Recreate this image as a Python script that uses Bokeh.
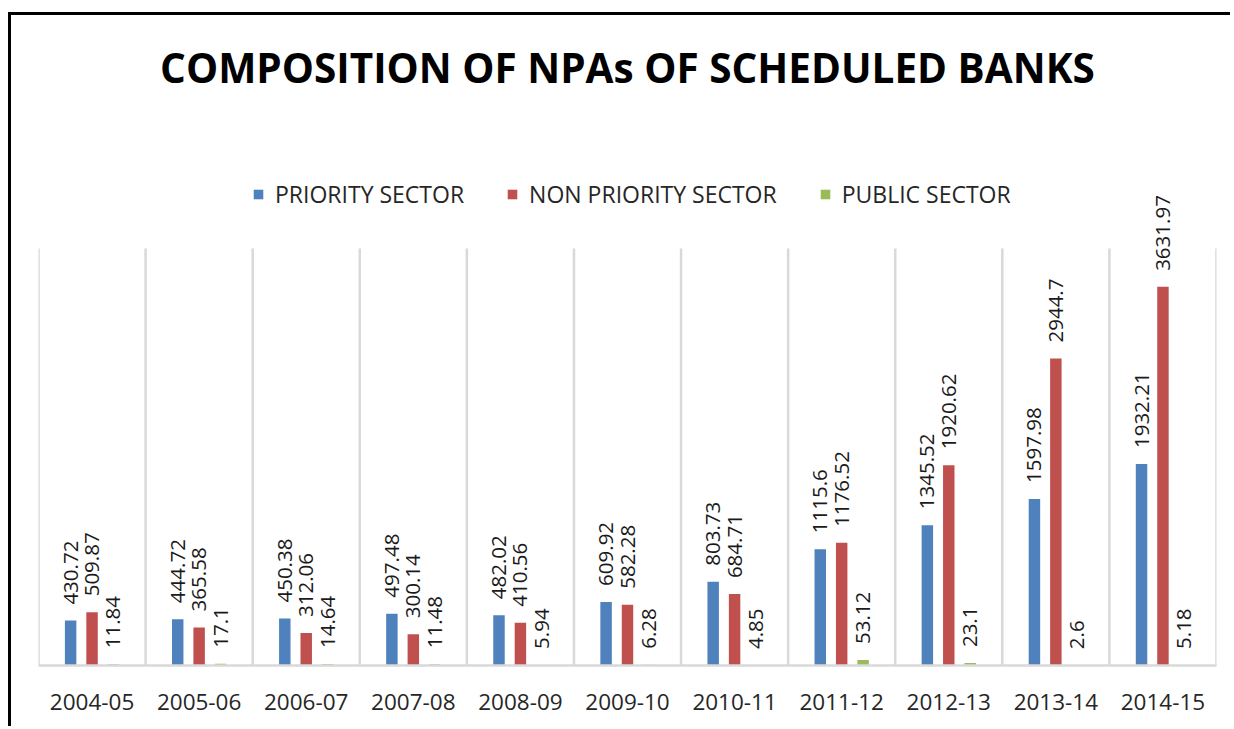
import math
from bokeh.plotting import figure
from bokeh.models import (ColumnDataSource, Range1d, FixedTicker, Label, Legend, LegendItem)
from bokeh.core.properties import value
from bokeh.embed import file_html
from bokeh.resources import INLINE

# ---- data ----
years = ["2004-05", "2005-06", "2006-07", "2007-08", "2008-09", "2009-10",
         "2010-11", "2011-12", "2012-13", "2013-14", "2014-15"]
priority = [430.72, 444.72, 450.38, 497.48, 482.02, 609.92, 803.73, 1115.6, 1345.52, 1597.98, 1932.21]
non_priority = [509.87, 365.58, 312.06, 300.14, 410.56, 582.28, 684.71, 1176.52, 1920.62, 2944.7, 3631.97]
public = [11.84, 17.1, 14.64, 11.48, 5.94, 6.28, 4.85, 53.12, 23.1, 2.6, 5.18]
series_names = ["PRIORITY SECTOR", "NON PRIORITY SECTOR", "PUBLIC SECTOR"]
series_colors = ["#4F81BD", "#C0504D", "#9BBB59"]
title_text = "COMPOSITION OF NPAs OF SCHEDULED BANKS"
axis_max = 4000

FONT = "Open Sans"
W, H = 1222, 714
ML, MR, MT, MB = 27, 17, 0, 64
FW = W - ML - MR
FH = H - MT - MB
PX_PER_UNIT = 417.0 / axis_max
Y_END = FH / PX_PER_UNIT

p = figure(width=W, height=H, output_backend="svg", toolbar_location=None,
           x_range=Range1d(0, len(years)), y_range=Range1d(0, Y_END),
           min_border_left=ML, min_border_right=MR, min_border_top=MT, min_border_bottom=MB,
           outline_line_color=None, background_fill_color="white", border_fill_color="white")
p.styles = {"border-left": "3px solid black", "border-top": "3px solid black",
            "margin-top": "12px", "margin-left": "8px"}

p.yaxis.visible = False
p.ygrid.grid_line_color = None
p.xgrid.grid_line_color = None

# category separators
sep_x = list(range(len(years) + 1))
p.segment(x0=sep_x, y0=[0] * len(sep_x), x1=sep_x, y1=[axis_max] * len(sep_x),
          line_color="#d9d9d9", line_width=2.5)

centers = [i + 0.5 for i in range(len(years))]
p.xaxis.ticker = FixedTicker(ticks=centers)
p.xaxis.major_label_overrides = {c: y for c, y in zip(centers, years)}
p.xaxis.axis_line_color = "#d9d9d9"
p.xaxis.axis_line_width = 2.5
p.xaxis.major_tick_line_color = None
p.xaxis.minor_tick_line_color = None
p.xaxis.major_label_text_font = FONT
p.xaxis.major_label_text_font_size = "22.5px"
p.xaxis.major_label_text_color = "#262626"
p.xaxis.major_label_standoff = 22

offsets = [-0.2, 0.0, 0.2]
bar_w = 0.107
renderers = []
for vals, off, col in zip([priority, non_priority, public], offsets, series_colors):
    src = ColumnDataSource(dict(x=[c + off for c in centers], top=vals,
                                lab=[("%g" % v) for v in vals]))
    r = p.vbar(x="x", top="top", width=bar_w, source=src, fill_color=col, line_color=None)
    renderers.append(r)
    p.text(x="x", y="top", text="lab", source=src, angle=math.pi / 2,
           text_align="left", text_baseline="middle", y_offset=-16,
           text_font=value(FONT), text_font_size="20.5px", text_color="#1a1a1a")

legend = Legend(items=[LegendItem(label=n, renderers=[r]) for n, r in zip(series_names, renderers)],
                orientation="horizontal", location=(214, FH - 180 - 15),
                glyph_width=12, glyph_height=12, label_standoff=11, spacing=42,
                padding=0, margin=0, border_line_color=None, background_fill_alpha=0,
                label_text_font=FONT, label_text_font_size="23px", label_text_color="#262626")
p.add_layout(legend, "center")

p.add_layout(Label(x=FW / 2, y=FH - 52, x_units="screen", y_units="screen",
                   text=title_text, text_align="center", text_baseline="alphabetic",
                   text_font=FONT, text_font_style="bold", text_font_size="40.5px",
                   text_color="black"))

open("out.html", "w").write(file_html(p, INLINE))
